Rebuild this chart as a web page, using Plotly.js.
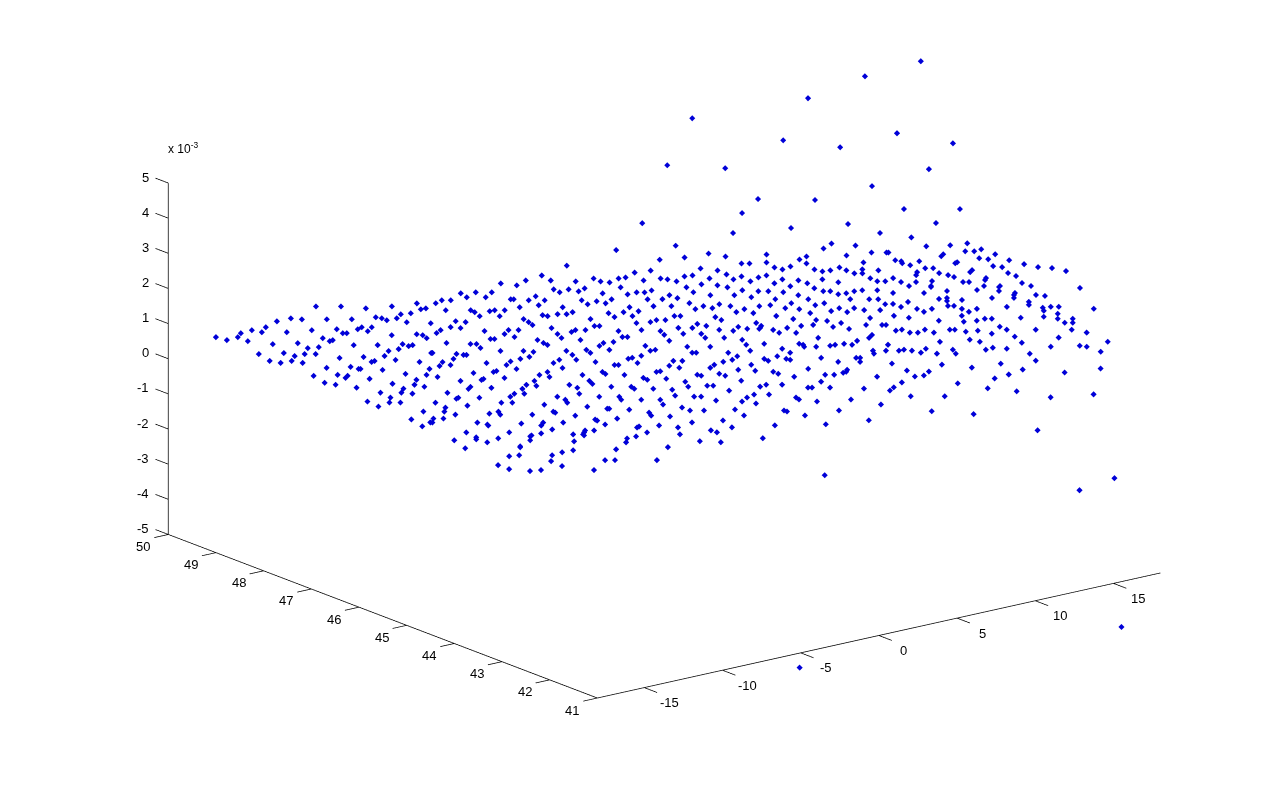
<!DOCTYPE html><html><head><meta charset="utf-8"><script src="https://cdn.plot.ly/plotly-3.0.1.min.js"></script><style>html,body{margin:0;background:#fff}</style></head><body><div id="c" style="width:1281px;height:785px"></div><script>
// Positions, patch by patch (3x zoom units, from the patch origin)
const patchA=[43,169,76,178,109,169,118,157,139,181,151,148,181,154,193,139,226,121,268,112,301,115,343,76,418,76,493,82,571,76,646,67,658,85,673,82,628,97,598,100,586,112,556,118,541,112,523,109,451,115,376,115,616,124,688,127,511,139,481,139,469,145,499,151,406,145,424,157,436,157,331,148,256,154,571,163,646,160,664,163,676,172,364,172,394,178,385,181,289,187,214,190,352,199,319,202,457,193,529,193,604,190,592,205,622,196,634,193,562,211,247,217,172,220,280,226,310,220,343,220,550,226,415,232,487,229,205,241,238,247,271,241,304,247,520,241,511,244,583,238,655,244,690,217,448,259,472,265,478,265,376,262,544,268,685,265,613,280,337,286,409,283,433,292,439,286,505,295,676,283,646,298,370,307,403,313,574,310,640,313,466,322,607,325,670,319,601,337,634,340,538,337,568,352,499,364,565,367,598,367,532,379];
const patchH=[247,19,211,43,244,64,268,52];
const patchB=[685,25,406,43,331,73,208,97,256,103,283,88,358,88,433,91,487,82,508,91,535,94,562,82,583,79,610,64,658,58,637,88,688,82,367,115,385,124,412,115,442,121,460,112,568,109,589,130,616,124,640,124,661,118,514,127,88,127,133,124,181,124,31,148,13,157,58,148,106,139,163,139,238,145,247,145,313,136,292,148,340,148,451,148,496,151,541,145,649,145,469,160,523,157,322,163,265,169,394,169,667,166,43,178,118,178,130,184,175,181,190,178,220,178,145,196,205,196,334,193,349,196,379,190,406,190,424,184,532,187,577,184,595,169,622,181,550,199,604,196,277,205,292,214,304,223,478,205,616,217,658,214,676,208,103,214,73,211,58,229,88,232,361,232,490,226,505,226,631,238,28,238,16,247,160,241,232,238,262,238,433,238,421,244,463,238,562,241,688,241,220,250,379,250,250,259,391,262,574,259,589,259,178,265,190,265,319,268,448,268,46,277,118,280,136,280,337,277,349,283,148,292,517,277,547,274,505,286,643,286,535,298,208,301,277,301,406,301,466,298,478,307,307,304,658,301,673,298,4,307,76,310,97,313,106,313,295,319,424,313,631,316,604,322,592,325,67,325,268,325,385,328,436,328];
const patchC=[34,4,25,16,58,13,166,7,238,2,226,13,256,25,367,7,394,22,493,4,550,13,562,13,619,7,127,37,19,49,187,34,196,31,220,52,325,43,349,34,355,49,454,43,514,34,523,40,580,43,637,52,649,58,676,34,688,32,88,61,151,58,157,55,310,61,475,61,484,70,415,73,286,73,316,76,118,79,112,85,181,82,274,85,439,82,541,79,601,79,610,85,667,85,49,97,280,100,445,100,250,100,238,109,379,109,505,109,565,109,571,118,76,115,82,112,145,112,403,118,409,127,631,118,688,118,13,127,211,127,244,127,340,133,109,136,43,142,40,154,469,139,529,145,535,145,595,148,202,154,208,163,367,154,373,157,655,157,661,166,73,163,175,160,304,163,433,166,7,175,37,175,559,175,4,187,139,187,271,190,337,187,331,196,397,187,493,178,499,181,523,193,169,193,172,196,625,199,619,202,685,196,364,208,490,211,106,217,235,217,331,220,649,217,463,211,460,217,457,223,460,226,427,223,616,229,302,226,298,229,136,232,136,238,202,235,589,235,70,241,298,241,430,244,586,247,169,247,268,259,268,262,103,265,556,268,427,271,394,277,235,289,265,286,364,286,523,301,553,301,361,304,679,301,202,316,394,319,235,328,298,334,331,331,490,331];
const patchD=[43,28,142,52,70,64,193,61,316,55,241,82,265,82,316,79,487,37,511,22,583,28,556,58,631,49,676,49,682,49,436,61,415,70,436,82,607,79,388,91,340,94,364,100,118,97,169,103,460,100,484,106,508,103,535,94,556,103,604,100,604,112,580,112,652,103,196,115,70,121,94,118,241,121,292,124,316,118,19,130,46,136,145,127,217,130,268,136,364,130,412,133,484,130,628,127,649,136,673,136,532,139,121,145,169,148,340,142,388,151,439,142,76,154,199,154,460,157,97,169,244,163,292,166,322,166,367,169,487,166,508,166,532,175,556,172,580,166,604,163,649,163,25,178,148,178,220,178,412,178,4,190,49,187,271,184,343,190,442,190,568,190,625,190,652,190,85,202,175,205,391,202,490,202,673,205,31,211,127,211,208,211,295,211,328,208,463,208,535,217,580,217,154,217,103,220,250,220,373,217,415,220,610,223,658,223,226,229,277,232,448,232,511,226,559,229,40,241,58,241,163,244,346,241,628,247,13,253,181,253,397,250,466,253,499,256,286,262,541,262,109,265,136,271,301,271,298,277,295,280,232,274,421,271,457,268,517,274,616,268,664,268,676,268,52,277,94,277,175,283,259,280,337,283,379,277,565,280,217,286,355,292,406,292,67,295,121,295,10,298,133,307,190,307,472,307,634,298,625,307,244,313,589,316,25,316,310,325,415,325,427,328,430,334,466,334,508,331,523,328,550,325,574,328,682,328,256,328,79,334,148,334,268,346,364,340,637,346,640,355,94,352,106,352,202,352,388,352,676,346];
const patchE=[37,16,64,16,25,31,55,37,187,19,214,13,229,2,160,28,148,37,310,10,322,16,349,2,376,10,388,13,271,28,232,43,283,46,175,55,193,61,337,49,352,55,442,40,481,7,532,19,586,7,598,7,598,19,109,58,121,61,16,70,73,79,241,76,400,64,493,58,520,58,547,52,556,49,559,43,649,64,82,94,139,91,157,91,298,94,316,88,364,88,481,79,442,97,454,97,508,97,610,100,688,106,34,103,205,106,43,121,100,124,121,124,280,118,325,118,259,127,244,139,406,127,415,133,166,136,469,139,571,133,7,148,286,145,661,148,64,157,88,166,130,166,223,163,370,166,379,169,535,166,28,184,250,181,433,181,187,196,94,202,625,196,52,217,214,217,343,211,496,208,151,226,169,232,58,238,307,250,118,259,181,262,22,277];
const patchF=[61,34,106,61,178,58,229,52,223,76,250,76,271,70,313,85,265,97,292,100,355,103,400,115,442,124,484,127,526,136,151,91,157,85,13,103,31,106,34,112,85,106,58,118,193,112,199,109,103,127,127,127,307,121,334,124,145,142,79,139,76,148,172,148,190,154,238,139,244,133,352,142,376,151,7,157,31,169,76,169,124,166,217,169,235,169,283,163,286,157,394,172,55,181,121,181,121,184,280,181,328,181,325,184,421,181,568,187,325,196,169,196,259,193,7,202,100,202,373,202,370,208,370,217,436,208,463,211,304,217,145,220,169,217,169,226,214,223,52,229,415,229,415,238,7,235,31,244,172,241,190,241,349,244,481,244,505,244,457,247,460,256,610,250,79,250,124,250,214,250,259,250,100,259,235,259,502,265,10,271,214,271,460,274,55,277,283,280,304,280,391,277,502,280,547,280,145,286,220,289,259,286,523,292,547,292,328,304,16,316,34,313,103,313,178,313,193,313,349,313,436,313,544,313,58,322,82,322,130,322,226,319,262,316,304,325,589,322,373,334,505,337,238,343];
const patchG=[148,4,268,4,394,7,652,4,481,19,568,16,589,19,25,31,40,28,64,31,91,37,106,25,139,40,187,28,196,40,286,28,307,22,349,25,418,40,631,34,436,61,4,70,154,73,244,82,331,70,49,91,115,94,397,88,523,97,631,85,73,109,100,106,355,103,34,127,202,130,313,115,10,142,292,145,379,154,61,169,163,169,481,172,610,163,124,214,250,223];
// [readings, patch left, patch top, height of that part of the sheet x 10^-3]
const patches=[[patchA,200,280,0.5],[patchH,340,405,0.5],[patchB,430,250,1],[patchC,430,360,0],[patchD,660,235,1.5],[patchE,660,355,0.5],[patchF,890,225,2.5],[patchG,890,340,1.5]];
// Points off the main sheet: picture position and the height (x 10^-3) estimated for them
const strayU=[920,864,807,691,896,782,839,952,666,724,928,871,757,814,741,959,903,935,641,847,790,879,732,615,1121,799,1037,1114,1079,824];
const strayV=[60,75,97,117,132,139,146,142,164,167,168,185,198,199,212,208,208,222,222,223,227,232,232,249,627,668,430,478,490,475];
const strayZ=[8,7.5,7,6,5.5,5,5,5,4.5,4.5,4.5,4,4,4,3.5,3.5,3.5,3,3,3,3,3,3,2.5,-6.5,-6.5,-1,-2.5,-3,-2];
const xTicks=[-15,-10,-5,0,5,10,15], yTicks=[41,42,43,44,45,46,47,48,49,50], zTicks=[-5,-4,-3,-2,-1,0,1,2,3,4,5];
const xLim=[-18,18], yLim=[41,50], zLim=[-5,5];
// Invert the view of the axes box to get data values
function toData(u,v,z){const a=u-597,b=699-35.2*(z+5)-v;return [(18.33*a+47.8*b)/454-18,(15.64*b-3.5*a)/454+41,z];}
const px=[],py=[],pz=[];
function add(p){px.push(p[0]);py.push(p[1]);pz.push(p[2]);}
patches.forEach(([p,ox,oy,h])=>{for(let i=0;i<p.length;i+=2)add(toData(ox+p[i]/3,oy+p[i+1]/3,h));});
strayU.forEach((u,i)=>add(toData(u,strayV[i],strayZ[i])));
// axis box lines and ticks
const lx=[],ly=[],lz=[];
function seg(a,b){lx.push(a[0],b[0],null);ly.push(a[1],b[1],null);lz.push(a[2],b[2],null);}
seg([xLim[0],yLim[1],zLim[0]],[xLim[0],yLim[1],zLim[1]]);
seg([xLim[0],yLim[0],zLim[0]],[xLim[0],yLim[1],zLim[0]]);
seg([xLim[0],yLim[0],zLim[0]],[xLim[1],yLim[0],zLim[0]]);
xTicks.forEach(t=>seg([t,yLim[0],zLim[0]],[t,yLim[0]-0.27,zLim[0]]));
yTicks.forEach(t=>seg([xLim[0],t,zLim[0]],[xLim[0]-0.9,t,zLim[0]]));
zTicks.forEach(t=>seg([xLim[0],yLim[1],t],[xLim[0],yLim[1]+0.27,t]));
const font={family:'Liberation Sans, Arial, sans-serif',size:13,color:'#000'};
const ann=[];
xTicks.forEach(t=>ann.push({x:t,y:yLim[0],z:zLim[0],text:String(t),showarrow:false,font,xanchor:'center',yanchor:'middle',xshift:25,yshift:-15}));
yTicks.forEach(t=>ann.push({x:xLim[0],y:t,z:zLim[0],text:String(t),showarrow:false,font,xanchor:'center',yanchor:'middle',xshift:-25,yshift:-12}));
zTicks.forEach(t=>ann.push({x:xLim[0],y:yLim[1],z:t,text:String(t),showarrow:false,font,xanchor:'right',yanchor:'middle',xshift:-17,yshift:6}));
ann.push({x:xLim[0],y:yLim[1],z:zLim[1],text:'x 10<sup>-3</sup>',showarrow:false,font:{...font,size:12},xanchor:'left',yanchor:'middle',xshift:-2,yshift:35});
const hid={visible:false,showgrid:false,zeroline:false,showbackground:false,showspikes:false};
Plotly.newPlot('c',[
 {type:'scatter3d',mode:'lines',x:lx,y:ly,z:lz,line:{color:'#000',width:1.5},hoverinfo:'skip',connectgaps:false},
 {type:'scatter3d',mode:'markers',x:px,y:py,z:pz,marker:{size:2,color:'#0000d8',symbol:'diamond',line:{width:0}},hoverinfo:'skip'}
],{
 width:1281,height:785,margin:{l:0,r:0,t:0,b:0},showlegend:false,paper_bgcolor:'#fff',
 scene:{domain:{x:[0,1],y:[0,1]},aspectmode:'manual',aspectratio:{x:2.306,y:3.2025,z:2.246},
  camera:{projection:{type:'orthographic'},eye:{x:-2.38,y:-3.118,z:1.193},center:{x:0,y:0,z:0},up:{x:0,y:0,z:1}},
  xaxis:{...hid,range:[-25.5,20.5]},yaxis:{...hid,range:[37.18,53.18]},zaxis:{...hid,range:[-12,12]},annotations:ann}
},{displayModeBar:false});
</script></body></html>
